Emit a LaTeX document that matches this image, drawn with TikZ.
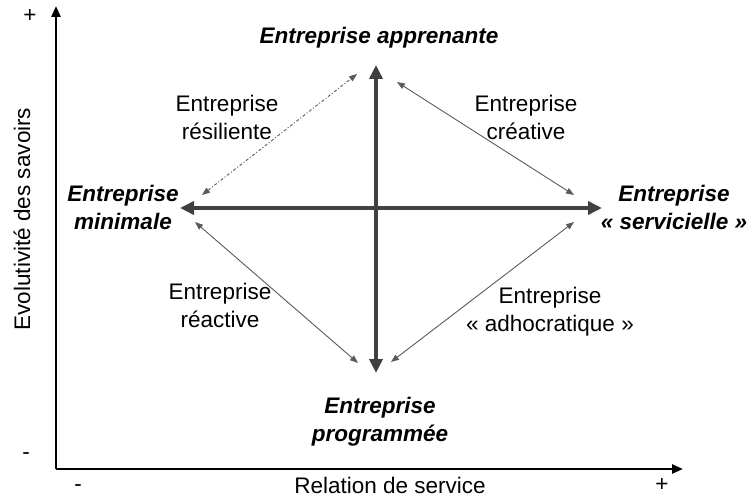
\documentclass[tikz,border=0pt]{standalone}
\usepackage{fontspec}
\setmainfont{Liberation Sans}
\usetikzlibrary{arrows.meta}
\definecolor{crossgray}{HTML}{404040}
\definecolor{thingray}{HTML}{5A5A5A}
\tikzset{
  txt/.style={font=\fontsize{22.5}{28}\selectfont, align=center, inner sep=0pt, text=black},
  btxt/.style={txt, font=\fontsize{22.5}{28}\selectfont\bfseries\itshape},
  axisline/.style={line width=2.6pt, black, -{Triangle[length=11pt,width=9pt]}},
  crossline/.style={line width=4.2pt, crossgray, {Triangle[length=14pt,width=13pt]}-{Triangle[length=14pt,width=13pt]}},
  thinarrow/.style={line width=0.9pt, thingray, {Triangle[length=8pt,width=6pt]}-{Triangle[length=8pt,width=6pt]}},
}
\begin{document}
\begin{tikzpicture}[x=1pt,y=-1pt]
\useasboundingbox (0,0) rectangle (753,497);
% axes
\coordinate (O) at (56,469);
\coordinate (ytop) at (56,6);
\coordinate (xend) at (683,469);
\draw[axisline] (O) -- (ytop);
\draw[axisline] (O) -- (xend);
\node[txt] (yplus) at (30,16) {+};
\node[txt] (yminus) at (26,456) {-};
\node[txt] (xminus) at (78,488) {-};
\node[txt] (xplus) at (662,485) {+};
\node[txt, rotate=90] (ylab) at (22,219) {Evolutivité des savoirs};
\node[txt] (xlab) at (390,485) {Relation de service};
% central cross
\coordinate (ctop) at (376,65);
\coordinate (cbot) at (376,373);
\coordinate (cleft) at (180,208);
\coordinate (cright) at (602,208);
\draw[crossline] (cbot) -- (ctop);
\draw[crossline] (cleft) -- (cright);
% main labels
\node[btxt] (appr) at (379,38) {Entreprise apprenante};
\node[btxt] (mini) at (123,207) {Entreprise\\minimale};
\node[btxt] (serv) at (674,207) {Entreprise\\« servicielle »};
\node[btxt] (prog) at (380,422) {Entreprise\\programmée};
% diagonal labels
\node[txt] (resi) at (227,117) {Entreprise\\résiliente};
\node[txt] (crea) at (526,117) {Entreprise\\créative};
\node[txt] (reac) at (220,305) {Entreprise\\réactive};
\node[txt] (adho) at (550,312) {Entreprise\\« adhocratique »};
% diagonal arrows
\coordinate (r1) at (202,195);
\coordinate (r2) at (357,74);
\coordinate (c1) at (397,82);
\coordinate (c2) at (574,195);
\coordinate (a1) at (391,362);
\coordinate (a2) at (574,222);
\coordinate (e1) at (195,222);
\coordinate (e2) at (358,363);
\draw[thinarrow, dash pattern=on 3pt off 2pt on 1pt off 2pt] (r1) -- (r2);
\draw[thinarrow] (c1) -- (c2);
\draw[thinarrow] (a1) -- (a2);
\draw[thinarrow] (e1) -- (e2);
\end{tikzpicture}
\end{document}
